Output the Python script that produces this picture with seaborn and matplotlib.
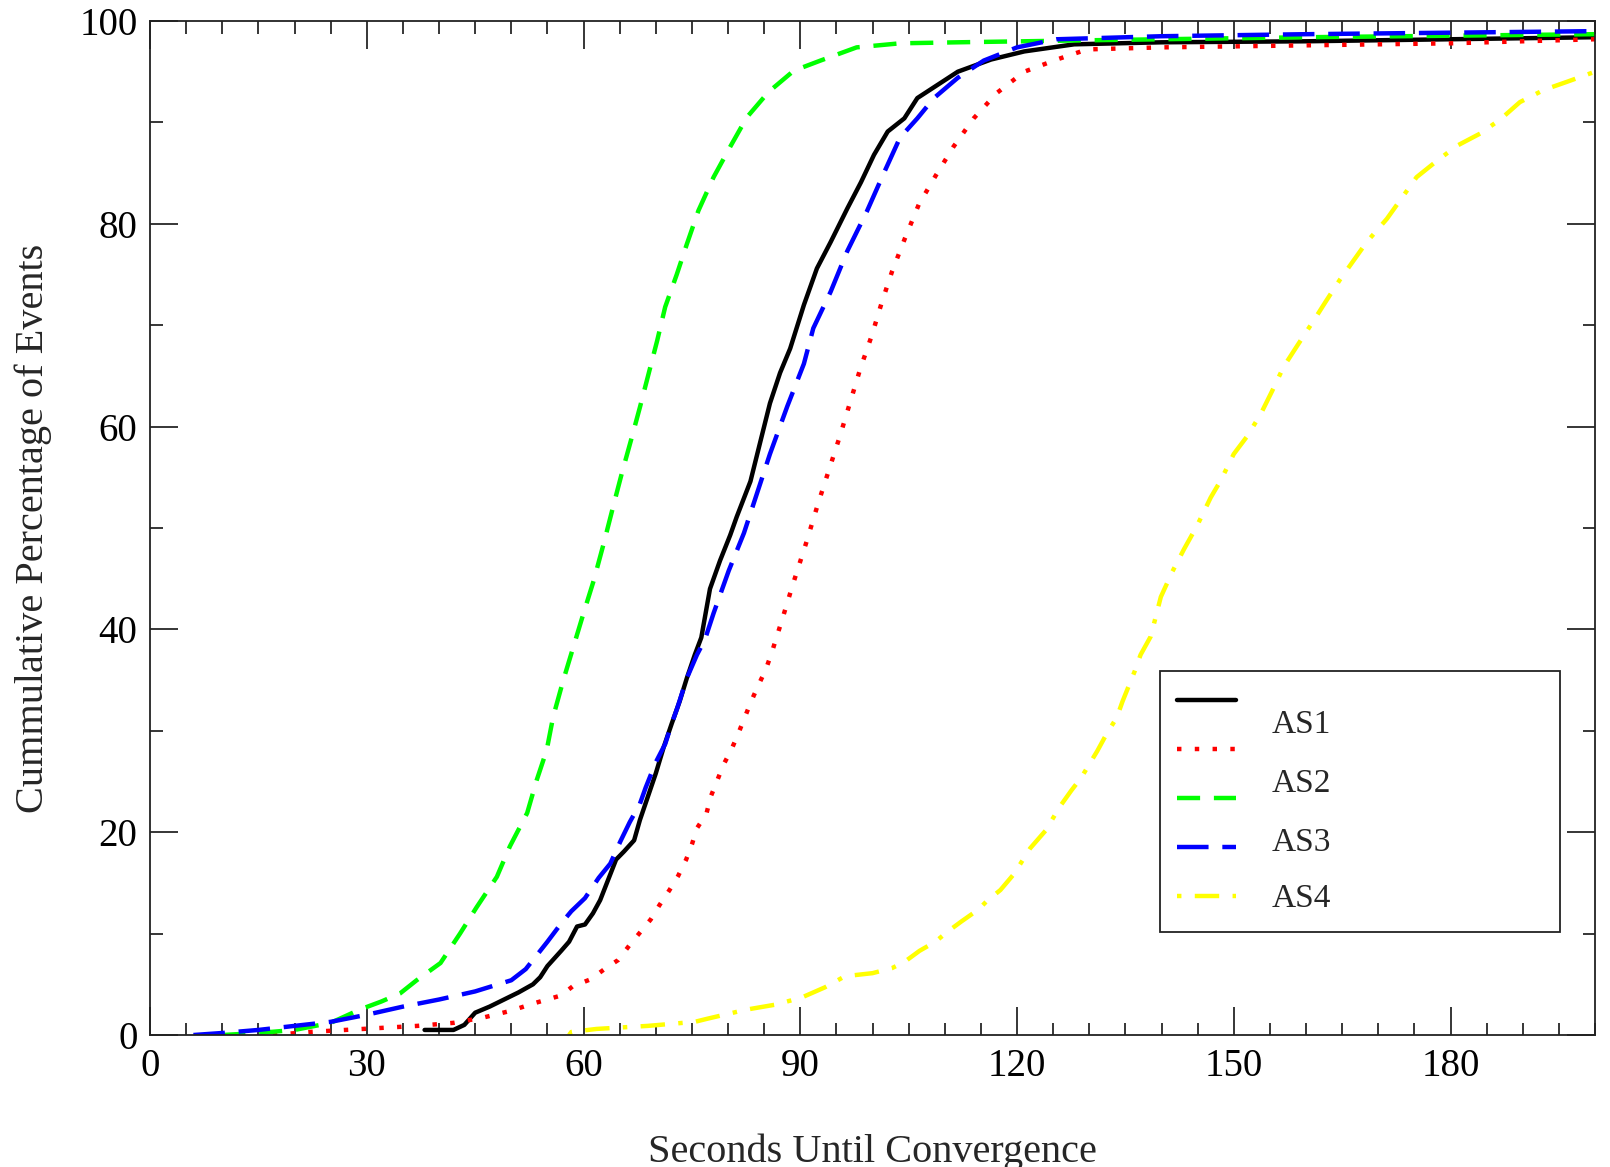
import pandas as pd
import numpy as np
import matplotlib
matplotlib.use('Agg')
import matplotlib.pyplot as plt
from matplotlib.ticker import MultipleLocator
import seaborn as sns

# Values (seconds, cumulative %)
as1_x = [38, 42, 43.5, 45, 47, 49, 51, 53, 54, 55, 56.9, 58, 59.1, 60.2, 61.3, 62.3, 63.4,
         64.5, 65.6, 67, 67.8, 68.9, 70, 71.1, 72.2, 73.3, 74.3, 75.4, 76.3, 77.5, 78.9,
         80.3, 81.2, 83.1, 84.5, 85.8, 87.2, 88.6, 90.5, 92.3, 94.2, 96.5, 98.4, 100.2,
         102.1, 104.4, 106.2, 109, 111.8, 116.4, 121, 127.9, 140, 160, 180, 200]
as1_y = [0.5, 0.5, 1.0, 2.2, 2.8, 3.5, 4.2, 5.0, 5.7, 6.8, 8.3, 9.2, 10.7, 10.9, 12.0,
         13.3, 15.3, 17.3, 18.1, 19.2, 21.2, 23.5, 25.8, 28.4, 30.7, 32.9, 35.2, 37.5, 39.2,
         44.0, 46.8, 49.3, 51.1, 54.6, 58.6, 62.3, 65.3, 67.7, 72.0, 75.6, 78.2, 81.5, 84.1,
         86.8, 89.1, 90.4, 92.4, 93.7, 95.0, 96.2, 97.0, 97.7, 97.9, 98.0, 98.2, 98.4]

as2_x = [17, 22, 27, 32, 37, 42, 46, 50, 53, 56.9, 58.5, 61, 62.9, 64.8, 66.3, 67.8, 69.3,
         70.5, 71.9, 73.1, 74.2, 75, 75.7, 77, 77.6, 78.5, 79.4, 80.5, 81.4, 82.3, 83.2,
         84.2, 85.2, 86, 87.5, 89, 90.8, 92.5, 94, 95.5, 96.9, 98.3, 99.9, 101.3, 102.7,
         104.5, 106.4, 108.7, 111.2, 114, 117.2, 121, 125.5, 129.7, 140, 160, 180, 200]
as2_y = [0.0, 0.3, 0.5, 0.7, 0.9, 1.2, 1.7, 2.4, 3.1, 3.9, 4.8, 5.5, 6.5, 7.4, 8.8, 10.1,
         11.4, 12.8, 14.3, 15.7, 17.3, 18.8, 20.4, 21.8, 23.5, 25.1, 26.7, 28.2, 29.7, 31.3,
         32.9, 34.5, 36.0, 37.6, 41.0, 44.5, 48.5, 52.5, 55.8, 59.1, 62.4, 65.7, 69.0, 72.3,
         75.3, 78.6, 81.9, 84.7, 87.6, 90.4, 92.9, 95.0, 96.2, 97.2, 97.4, 97.6, 97.8, 98.2]

as3_x = [10, 15, 20, 25, 29, 32, 34.6, 36.9, 40.2, 42.9, 45.2, 48, 49.8, 52.2, 53.5, 54.9,
         55.8, 57.2, 58.6, 60, 61.4, 62.8, 64.2, 65.3, 66.7, 67.8, 69, 70.2, 71.3, 72.9,
         74.3, 75.9, 78, 80.3, 82.6, 85.6, 89.1, 92.8, 97.8, 103.8, 111.8, 130, 160, 200]
as3_y = [0.0, 0.2, 0.5, 1.2, 2.5, 3.3, 4.1, 5.4, 7.1, 10.0, 12.6, 15.6, 18.6, 21.9, 25.1,
         28.1, 31.4, 35.0, 38.3, 41.6, 44.8, 48.5, 52.4, 55.4, 59.0, 61.9, 65.2, 68.5, 71.8,
         75.0, 78.0, 81.3, 84.6, 87.6, 90.5, 93.0, 95.1, 96.1, 97.4, 97.8, 97.9, 98.1, 98.4,
         98.7]

as4_x = [6, 10, 15, 20, 25, 30, 35, 40, 45, 50, 52, 55, 56.9, 58.3, 60.2, 62.1, 63.7, 65.1,
         66.4, 67.8, 68.6, 70, 71.3, 72.2, 73, 74.3, 75.7, 76.8, 78, 80.1, 82.2, 84, 85.8,
         88.2, 90.5, 91.8, 94.2, 96.5, 99.2, 101.5, 103.8, 106.2, 108.5, 111.8, 115.4, 120,
         125.5, 140, 160, 200]
as4_y = [0.0, 0.2, 0.5, 0.9, 1.3, 2.0, 2.8, 3.5, 4.3, 5.4, 6.5, 9.2, 11.0, 12.2, 13.5,
         15.5, 16.9, 19.1, 21.0, 22.8, 24.4, 26.9, 28.7, 30.7, 32.3, 35.2, 37.5, 39.0, 41.6,
         45.8, 49.5, 53.4, 57.3, 62.0, 66.2, 69.7, 73.3, 77.3, 81.2, 84.9, 88.5, 90.4, 92.4,
         94.4, 96.1, 97.4, 98.2, 98.5, 98.7, 99.0]

as5_x = [58, 58.3, 61.8, 68.9, 75.4, 77.1, 82.5, 86.6, 90.2, 93.4, 96.2, 100, 102.7, 104.4,
         106.5, 108.7, 110.4, 112.3, 114.7, 115.8, 117.7, 119.6, 121.8, 124, 125.9, 127.5,
         128.9, 131.1, 132.4, 133.8, 134.6, 136.3, 137.1, 138.5, 139.9, 141.5, 143.1, 144.9,
         146.8, 148.2, 150, 151.8, 153.7, 155.3, 156.9, 158.8, 161.1, 162.7, 164.7, 166.6,
         168.4, 171.2, 173, 175.3, 178.1, 180.9, 184.1, 186.9, 189.6, 192.9, 196.1, 200]
as5_y = [0.0, 0.3, 0.6, 0.9, 1.3, 1.6, 2.5, 3.0, 3.7, 4.7, 5.8, 6.1, 6.6, 7.2, 8.3, 9.2,
         10.2, 11.2, 12.4, 13.2, 14.3, 15.9, 18.4, 20.2, 22.5, 24.1, 25.4, 28.0, 29.7, 31.3,
         32.9, 35.9, 37.5, 39.3, 43.2, 45.7, 47.9, 50.2, 53.0, 54.7, 57.3, 59.0, 61.2, 63.5,
         65.9, 68.0, 70.5, 72.3, 74.5, 76.4, 78.2, 80.5, 82.3, 84.6, 86.2, 87.7, 88.9, 90.3,
         92.0, 93.2, 94.0, 95.0]

legend_labels = ['AS1', 'AS2', 'AS3', 'AS4']

series = [
    (as1_x, as1_y, 'black', '-'),
    (as2_x, as2_y, '#ff0000', (0, (1, 3))),
    (as3_x, as3_y, '#00ff00', (0, (5.2, 3.1))),
    (as4_x, as4_y, '#0000ff', (0, (7.1, 3.1))),
    (as5_x, as5_y, '#ffff00', (0, (1, 3, 5.5, 3))),
]

sns.set_style('ticks')
plt.rcParams['font.family'] = ['Liberation Serif', 'DejaVu Serif']

fig = plt.figure(figsize=(16.1, 11.67), dpi=100)
ax = fig.add_axes([0.0932, 0.1131, 0.8975, 0.8689])

for xs, ys, col, ls in series:
    df = pd.DataFrame({'x': xs, 'y': ys})
    sns.lineplot(data=df, x='x', y='y', ax=ax, color=col, linestyle=ls,
                 linewidth=3.2, estimator=None, sort=False)

ax.set_xlim(0, 200)
ax.set_ylim(0, 100)
ax.xaxis.set_major_locator(MultipleLocator(30))
ax.xaxis.set_minor_locator(MultipleLocator(5))
ax.yaxis.set_major_locator(MultipleLocator(20))
ax.yaxis.set_minor_locator(MultipleLocator(10))
ax.tick_params(which='both', direction='in', top=True, right=True, colors='black',
               labelsize=28)
ax.tick_params(which='major', length=20, width=1.1, pad=9)
ax.tick_params(which='minor', length=9, width=1.1)
for sp in ax.spines.values():
    sp.set_linewidth(1.3)
    sp.set_color('#222222')

ax.set_xlabel('Seconds Until Convergence', fontsize=29, labelpad=35)
ax.set_ylabel('Cummulative Percentage of Events', fontsize=29, labelpad=20)

# legend: xmgrace style, labels sit below their handles
leg = ax.legend(handles=ax.get_lines(), labels=[' '] * 5, loc='lower left',
                bbox_to_anchor=(0.699, 0.102, 0.277, 0.253), mode='expand',
                borderaxespad=0, fontsize=24, handlelength=1.75, labelspacing=0.55,
                borderpad=0.52, fancybox=False, framealpha=1, edgecolor='#222222')
leg.get_frame().set_linewidth(1.3)
for lab, ypos in zip(legend_labels, [0.306, 0.248, 0.190, 0.134]):
    ax.text(0.776, ypos, lab, transform=ax.transAxes, fontsize=24, va='center',
            ha='left', zorder=10)

fig.savefig('out.png', dpi=100)
